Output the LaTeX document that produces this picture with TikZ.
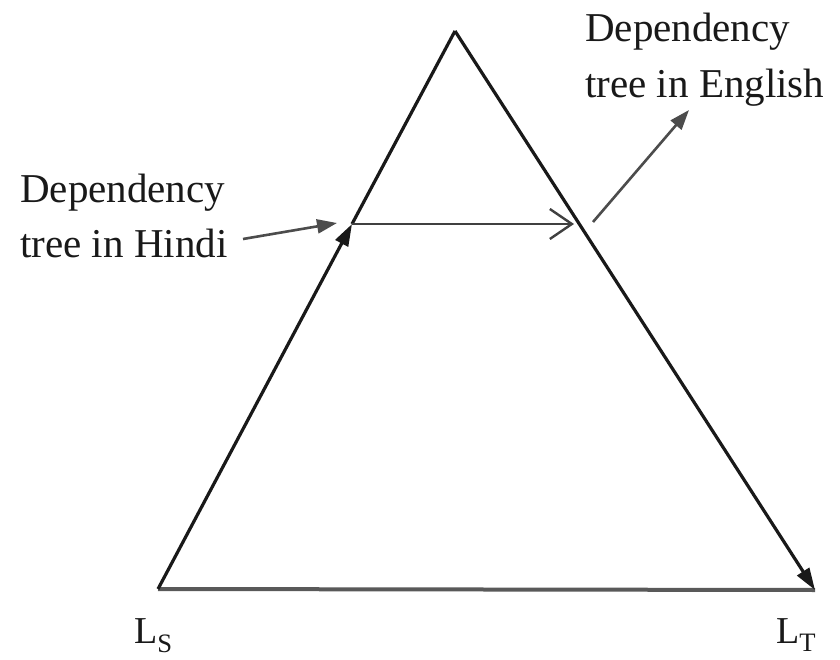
\documentclass[tikz,border=0pt]{standalone}
\usepackage{fontspec}
\setmainfont{Liberation Serif}
\usetikzlibrary{arrows.meta}
\begin{document}
\begin{tikzpicture}[x=1pt,y=-1pt,
  side/.style={line width=3.2pt,black!90},
  pointer/.style={line width=2.6pt,black!70,-{Triangle[length=20pt,width=14pt]}},
  lbl/.style={anchor=base west,inner sep=0pt,font=\fontsize{41}{55}\selectfont,text=black!90},
  corner/.style={anchor=base west,inner sep=0pt,font=\fontsize{38}{46}\selectfont,text=black!90}]
\useasboundingbox (0,0) rectangle (840,660);
\fill[white] (0,0) rectangle (840,660);
% corners of the triangle
\coordinate (apex) at (455,31);
\coordinate (bl) at (158,589);
\coordinate (br) at (815,590);
\coordinate (hindi) at (352,224);
\coordinate (english) at (574,224);
% bottom line
\draw[line width=4pt,black!65] (bl) -- (br);
% left side: arrow up to Hindi tree, then to apex
\draw[side,-{Triangle[length=22pt,width=14pt]}] (bl) -- (hindi);
\draw[side] (hindi) -- (apex);
% right side
\draw[side,-{Triangle[length=22pt,width=14pt]}] (apex) -- (br);
% horizontal transfer arrow
\draw[line width=2.8pt,black!75,-{Straight Barb[length=22pt,width=30pt,line width=2.4pt]}] (hindi) -- (english);
% labels
\node[lbl] (h1) at (20,203) {Dependency};
\node[lbl] (h2) at (20,258) {tree in Hindi};
\node[lbl] (e1) at (585,42) {Dependency};
\node[lbl] (e2) at (585,98) {tree in English};
\coordinate (hstart) at (243,239);
\coordinate (htip) at (337,223);
\coordinate (estart) at (593,222);
\coordinate (etip) at (689,110);
\draw[pointer] (hstart) -- (htip);
\draw[pointer] (estart) -- (etip);
\node[corner] (LS) at (134,643) {L\textsubscript{S}};
\node[corner] (LT) at (776,643) {L\textsubscript{T}};
\end{tikzpicture}
\end{document}
